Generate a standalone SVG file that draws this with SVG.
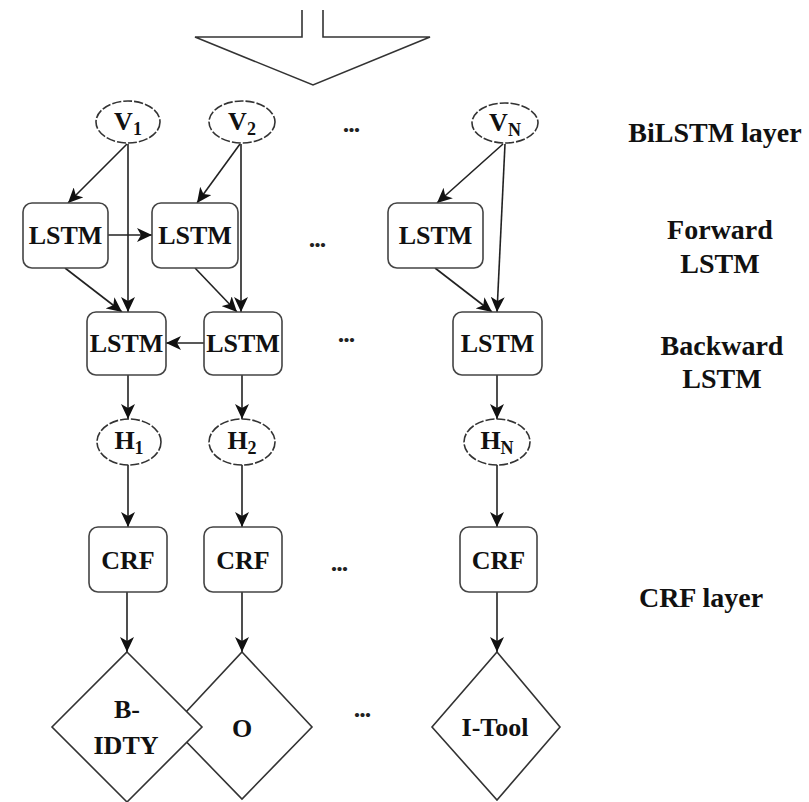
<svg xmlns="http://www.w3.org/2000/svg" width="809" height="802" viewBox="0 0 809 802">
<style>
.box{fill:#fff;stroke:#444;stroke-width:1.6}
.ell{fill:#fff;stroke:#333;stroke-width:1.6;stroke-dasharray:9 2}
.dia{fill:#fff;stroke:#333;stroke-width:1.6}
.t{font-family:'Liberation Serif','Times New Roman','DejaVu Serif',serif;font-weight:700;font-size:26px;fill:#111;text-anchor:middle}
.lab{font-size:28px}
.sub{font-size:18px}
.dots{font-family:'Liberation Serif','DejaVu Serif',serif;font-weight:700;font-size:26px;fill:#222;text-anchor:middle;letter-spacing:-1px}
.c{stroke:#222;stroke-width:1.6;fill:none;marker-end:url(#ah)}
</style>
<defs>
<marker id="ah" markerUnits="userSpaceOnUse" markerWidth="16" markerHeight="14" refX="15" refY="7" orient="auto">
<path d="M0,0 L15,7 L0,14 L4,7 z" fill="#111"/>
</marker>
</defs>
<g id="input-arrow">
<polyline points="302,10 302,37 195,37 313,85 430,37 323,37 323,10" fill="#fff" stroke="#333" stroke-width="1.6"/>
</g>
<g id="labels">
<text class="t lab" x="715" y="142">BiLSTM layer</text>
<text class="t lab" x="720" y="239">Forward</text>
<text class="t lab" x="720" y="273">LSTM</text>
<text class="t lab" x="722" y="355">Backward</text>
<text class="t lab" x="722" y="388">LSTM</text>
<text class="t lab" x="701" y="607">CRF layer</text>
</g>
<g id="ellipsis">
<text class="dots" x="351" y="132">...</text>
<text class="dots" x="317" y="247">...</text>
<text class="dots" x="346" y="342">...</text>
<text class="dots" x="339" y="571">...</text>
<text class="dots" x="362" y="717">...</text>
</g>
<g id="connectors">
<line class="c" x1="127" y1="144" x2="68" y2="203"/>
<line class="c" x1="128" y1="144" x2="128" y2="312"/>
<line class="c" x1="108" y1="235" x2="152" y2="235"/>
<line class="c" x1="65" y1="268" x2="122" y2="312"/>
<line class="c" x1="240" y1="144" x2="197" y2="203"/>
<line class="c" x1="241" y1="144" x2="241" y2="312"/>
<line class="c" x1="195" y1="268" x2="237" y2="312"/>
<line class="c" x1="204" y1="343" x2="166" y2="343"/>
<line class="c" x1="503" y1="144" x2="437" y2="203"/>
<line class="c" x1="505" y1="144" x2="497" y2="312"/>
<line class="c" x1="435" y1="268" x2="492" y2="312"/>
<line class="c" x1="128" y1="375" x2="128" y2="419"/>
<line class="c" x1="242" y1="375" x2="242" y2="419"/>
<line class="c" x1="497" y1="375" x2="497" y2="419"/>
<line class="c" x1="128" y1="465" x2="128" y2="527"/>
<line class="c" x1="242" y1="465" x2="242" y2="527"/>
<line class="c" x1="497" y1="465" x2="497" y2="527"/>
<line class="c" x1="127" y1="592" x2="127" y2="652"/>
<line class="c" x1="242" y1="592" x2="242" y2="652"/>
<line class="c" x1="497" y1="592" x2="497" y2="652"/>
</g>
<g id="V1"><ellipse class="ell" cx="128" cy="122" rx="32" ry="21"/><text class="t" x="128" y="130">V<tspan class="sub" dy="5">1</tspan></text></g>
<g id="V2"><ellipse class="ell" cx="242" cy="122" rx="33" ry="21"/><text class="t" x="242" y="130">V<tspan class="sub" dy="5">2</tspan></text></g>
<g id="VN"><ellipse class="ell" cx="505" cy="123" rx="33" ry="20"/><text class="t" x="505" y="131">V<tspan class="sub" dy="5">N</tspan></text></g>
<g id="F1"><rect class="box" x="23" y="203" width="85" height="65" rx="9"/><text class="t" x="65.5" y="244">LSTM</text></g>
<g id="F2"><rect class="box" x="152" y="203" width="86" height="65" rx="9"/><text class="t" x="195" y="244">LSTM</text></g>
<g id="FN"><rect class="box" x="388" y="203" width="95" height="65" rx="9"/><text class="t" x="435.5" y="244">LSTM</text></g>
<g id="B1"><rect class="box" x="87" y="312" width="79" height="63" rx="9"/><text class="t" x="126.5" y="352">LSTM</text></g>
<g id="B2"><rect class="box" x="204" y="312" width="78" height="63" rx="9"/><text class="t" x="243" y="352">LSTM</text></g>
<g id="BN"><rect class="box" x="453" y="312" width="89" height="63" rx="9"/><text class="t" x="497.5" y="352">LSTM</text></g>
<g id="H1"><ellipse class="ell" cx="129" cy="442" rx="32" ry="23"/><text class="t" x="129" y="449">H<tspan class="sub" dy="5">1</tspan></text></g>
<g id="H2"><ellipse class="ell" cx="242" cy="442" rx="33" ry="23"/><text class="t" x="242" y="449">H<tspan class="sub" dy="5">2</tspan></text></g>
<g id="HN"><ellipse class="ell" cx="497" cy="442" rx="33" ry="23"/><text class="t" x="497" y="449">H<tspan class="sub" dy="5">N</tspan></text></g>
<g id="CRF1"><rect class="box" x="89" y="527" width="78" height="65" rx="9"/><text class="t" x="128" y="569">CRF</text></g>
<g id="CRF2"><rect class="box" x="204" y="527" width="78" height="65" rx="9"/><text class="t" x="243" y="569">CRF</text></g>
<g id="CRFN"><rect class="box" x="460" y="527" width="77" height="65" rx="9"/><text class="t" x="498.5" y="569">CRF</text></g>
<g id="O"><polygon class="dia" points="242,652 312,727 242,799 172,727"/><text class="t" x="242" y="737">O</text></g>
<g id="B-IDTY"><polygon class="dia" points="127,652 202,727 127,802 52,727"/><text class="t" x="127" y="718">B-</text><text class="t" x="126" y="754">IDTY</text></g>
<g id="I-Tool"><polygon class="dia" points="497,652 560,727 497,800 432,727"/><text class="t" x="495" y="736">I-Tool</text></g>
</svg>
